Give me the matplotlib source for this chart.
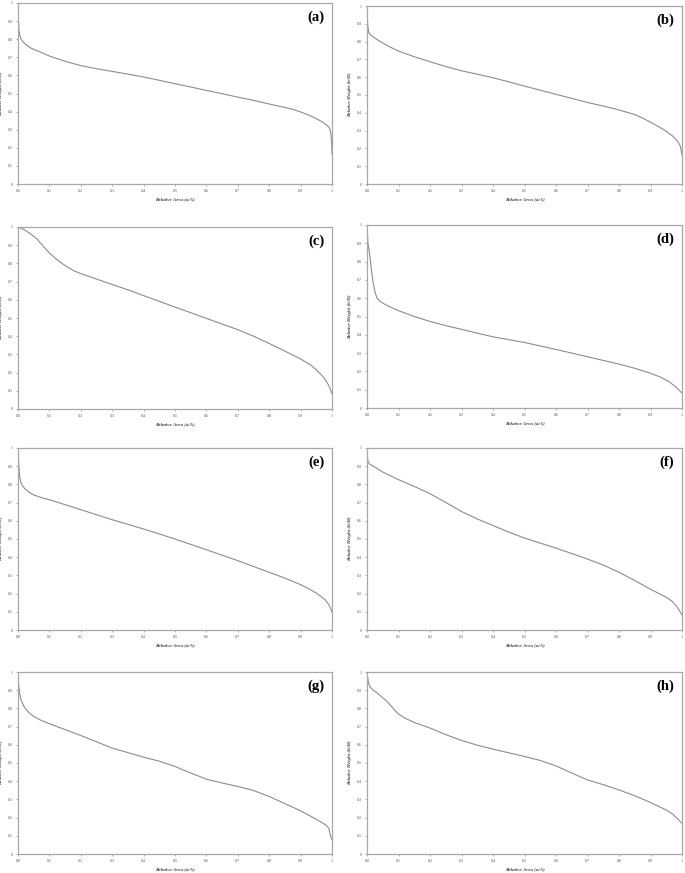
import matplotlib
matplotlib.use("Agg")
import matplotlib.pyplot as plt

# ---- data (relative area a/A vs relative height h/H) ----
xa = [0, 0.001, 0.003, 0.006, 0.01, 0.017, 0.025, 0.04, 0.055, 0.07, 0.1, 0.15, 0.2, 0.25, 0.3, 0.35, 0.4, 0.45, 0.5,
      0.55, 0.6, 0.65, 0.7, 0.75, 0.8, 0.85, 0.88, 0.9, 0.92, 0.94, 0.96, 0.97, 0.98, 0.99, 0.994, 0.997, 0.999, 1.0]
ya = [1.0, 0.92, 0.85, 0.82, 0.80, 0.783, 0.77, 0.752, 0.74, 0.73, 0.707, 0.678, 0.654, 0.637, 0.622, 0.607, 0.591, 0.573, 0.554,
      0.536, 0.517, 0.499, 0.48, 0.462, 0.442, 0.423, 0.41, 0.398, 0.385, 0.37, 0.352, 0.342, 0.33, 0.315, 0.3, 0.27, 0.22, 0.164]

xb = [0, 0.002, 0.005, 0.01, 0.02, 0.035, 0.05, 0.075, 0.1, 0.15, 0.2, 0.25, 0.3, 0.35, 0.4, 0.45, 0.5, 0.55, 0.6, 0.65, 0.7,
      0.75, 0.8, 0.85, 0.88, 0.9, 0.93, 0.95, 0.97, 0.98, 0.99, 0.995, 1.0]
yb = [1.0, 0.9, 0.854, 0.84, 0.826, 0.808, 0.792, 0.768, 0.747, 0.715, 0.687, 0.66, 0.636, 0.617, 0.597, 0.574, 0.55, 0.527, 0.504,
      0.481, 0.458, 0.438, 0.416, 0.39, 0.366, 0.347, 0.318, 0.296, 0.27, 0.252, 0.23, 0.21, 0.164]

xc = [0, 0.02, 0.04, 0.06, 0.08, 0.1, 0.12, 0.14, 0.16, 0.18, 0.2, 0.25, 0.3, 0.35, 0.4, 0.5, 0.6, 0.7, 0.75, 0.8,
      0.85, 0.9, 0.93, 0.95, 0.97, 0.98, 0.99, 1.0]
yc = [1.0, 0.985, 0.962, 0.935, 0.895, 0.857, 0.827, 0.8, 0.777, 0.758, 0.744, 0.714, 0.684, 0.655, 0.623, 0.56, 0.498, 0.436, 0.4, 0.36,
      0.318, 0.275, 0.244, 0.216, 0.18, 0.158, 0.128, 0.084]

xd = [0, 0.003, 0.008, 0.013, 0.019, 0.026, 0.032, 0.04, 0.05, 0.07, 0.1, 0.15, 0.2, 0.25, 0.3, 0.35, 0.4, 0.5, 0.6, 0.7, 0.8,
      0.85, 0.9, 0.93, 0.96, 0.98, 1.0]
yd = [1.0, 0.9, 0.846, 0.77, 0.69, 0.63, 0.6, 0.585, 0.573, 0.555, 0.532, 0.5, 0.473, 0.45, 0.43, 0.409, 0.389, 0.358, 0.32, 0.28, 0.24,
      0.217, 0.19, 0.17, 0.143, 0.115, 0.082]

xe = [0, 0.002, 0.005, 0.01, 0.02, 0.035, 0.05, 0.075, 0.1, 0.2, 0.3, 0.4, 0.5, 0.6, 0.7, 0.8, 0.85, 0.9, 0.93, 0.95, 0.97,
      0.98, 0.99, 0.995, 1.0]
ye = [1.0, 0.92, 0.844, 0.805, 0.78, 0.757, 0.742, 0.727, 0.716, 0.661, 0.606, 0.555, 0.5, 0.441, 0.381, 0.317, 0.285, 0.249, 0.223, 0.203, 0.178,
      0.162, 0.139, 0.12, 0.097]

xf = [0, 0.001, 0.003, 0.008, 0.02, 0.035, 0.05, 0.1, 0.15, 0.2, 0.25, 0.3, 0.35, 0.4, 0.45, 0.5, 0.6, 0.7, 0.75, 0.8, 0.85,
      0.9, 0.95, 0.97, 0.985, 1.0]
yf = [1.0, 0.96, 0.927, 0.912, 0.9, 0.885, 0.868, 0.826, 0.789, 0.749, 0.701, 0.651, 0.61, 0.574, 0.538, 0.505, 0.45, 0.39, 0.357, 0.317, 0.272,
      0.224, 0.18, 0.156, 0.125, 0.083]

xg = [0, 0.002, 0.005, 0.01, 0.02, 0.035, 0.05, 0.075, 0.1, 0.2, 0.3, 0.4, 0.45, 0.5, 0.55, 0.6, 0.65, 0.7, 0.75, 0.8, 0.85, 0.9,
      0.95, 0.98, 0.99, 0.995, 1.0]
yg = [1.0, 0.93, 0.884, 0.845, 0.807, 0.776, 0.756, 0.733, 0.716, 0.651, 0.582, 0.532, 0.51, 0.481, 0.445, 0.411, 0.39, 0.371, 0.349, 0.316, 0.277, 0.237,
      0.191, 0.16, 0.141, 0.1, 0.08]

xh = [0, 0.002, 0.005, 0.01, 0.02, 0.03, 0.045, 0.06, 0.07, 0.08, 0.09, 0.1, 0.12, 0.15, 0.2, 0.25, 0.3, 0.35, 0.4, 0.45, 0.5, 0.55,
      0.6, 0.65, 0.7, 0.75, 0.8, 0.85, 0.9, 0.95, 0.97, 1.0]
yh = [1.0, 0.97, 0.94, 0.917, 0.9, 0.888, 0.866, 0.844, 0.826, 0.807, 0.786, 0.769, 0.747, 0.723, 0.692, 0.656, 0.624, 0.598, 0.576, 0.556, 0.536, 0.514,
      0.484, 0.445, 0.407, 0.381, 0.352, 0.32, 0.283, 0.242, 0.22, 0.169]

panel_labels = ["(a)", "(b)", "(c)", "(d)", "(e)", "(f)", "(g)", "(h)"]
xticks = [0, 0.1, 0.2, 0.3, 0.4, 0.5, 0.6, 0.7, 0.8, 0.9, 1.0]
xtick_labels = ["0.0", "0.1", "0.2", "0.3", "0.4", "0.5", "0.6", "0.7", "0.8", "0.9", "1"]
yticks = [0, 0.1, 0.2, 0.3, 0.4, 0.5, 0.6, 0.7, 0.8, 0.9, 1.0]
ytick_labels = ["0", "0.1", "0.2", "0.3", "0.4", "0.5", "0.6", "0.7", "0.8", "0.9", "1"]
xlabel = "Relative Area (a/A)"
ylabel = "Relative Height (h/H)"

series = [(xa, ya), (xb, yb), (xc, yc), (xd, yd), (xe, ye), (xf, yf), (xg, yg), (xh, yh)]

W, H = 685, 873
fig = plt.figure(figsize=(W / 100, H / 100), dpi=100)
fig.patch.set_facecolor("white")

# axes boxes in pixels: (left, top, right, bottom)
boxes = [(18, 3, 332, 184), (367, 6, 682, 184),
         (18, 227, 332, 409), (367, 225, 682, 408),
         (18, 448, 332, 630), (367, 448, 682, 630),
         (18, 672, 332, 854), (367, 672, 682, 854)]

serif = ["Liberation Serif", "DejaVu Serif"]
frame_col = "#a8a8a8"
line_col = "#8c8c8c"

for (x, y), lab, (l, t, r, b) in zip(series, panel_labels, boxes):
    ax = fig.add_axes([l / W, 1 - b / H, (r - l) / W, (b - t) / H])
    ax.plot(x, y, color=line_col, lw=0.8)
    ax.set_xlim(0, 1)
    ax.set_ylim(0, 1)
    ax.set_xticks(xticks)
    ax.set_xticklabels(xtick_labels, fontsize=3, family=serif, color="#555555")
    ax.set_yticks(yticks)
    ax.set_yticklabels(ytick_labels, fontsize=3, family=serif, color="#555555")
    ax.tick_params(length=1.5, width=0.5, color="#888888", pad=2)
    for s in ax.spines.values():
        s.set_color(frame_col)
        s.set_linewidth(0.9)
    ax.set_xlabel(xlabel, fontsize=3.6, family=serif, fontweight="bold", fontstyle="italic",
                  color="#444444", labelpad=3)
    ax.set_ylabel(ylabel, fontsize=3.6, family=serif, fontweight="bold", fontstyle="italic",
                  color="#444444")
    ax.yaxis.set_label_coords(-15 / (r - l), 0.5)
    ax.text(0.975, 0.96, lab, transform=ax.transAxes, ha="right", va="top",
            fontsize=10.5, fontweight="bold", family=serif, color="black")

fig.savefig("out.png", dpi=100, facecolor="white")
